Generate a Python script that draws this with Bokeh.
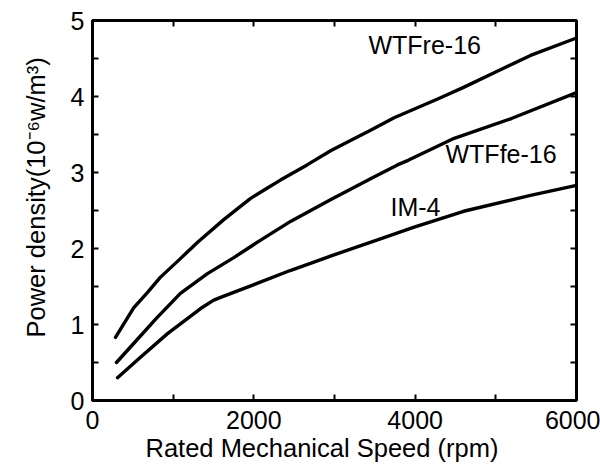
import math
from bokeh.plotting import figure
from bokeh.models import Range1d, FixedTicker, LinearAxis, Label, Title
from bokeh.embed import file_html
from bokeh.resources import INLINE

# ---- data ----
speed_ticks = [0, 2000, 4000, 6000]
speed_minor = [1000, 3000, 5000]
speed_all = [0, 1000, 2000, 3000, 4000, 5000, 6000]
density_ticks = [0, 1, 2, 3, 4, 5]
density_minor = [0.5, 1.5, 2.5, 3.5, 4.5]
density_all = [0, 0.5, 1, 1.5, 2, 2.5, 3, 3.5, 4, 4.5, 5]

wtfre_speed = [285, 510, 680, 840, 1093, 1300, 1627, 1960, 2174, 2330, 2660, 2957, 3453, 3739, 4286, 4600, 5031, 5430, 6000]
wtfre_density = [0.83, 1.22, 1.42, 1.62, 1.87, 2.08, 2.38, 2.66, 2.80, 2.90, 3.10, 3.29, 3.56, 3.72, 3.97, 4.12, 4.34, 4.54, 4.77]

wtffe_speed = [297, 510, 800, 1090, 1425, 1752, 2040, 2460, 2950, 3453, 3780, 3913, 4484, 5193, 6000]
wtffe_density = [0.50, 0.75, 1.09, 1.41, 1.67, 1.88, 2.08, 2.36, 2.64, 2.92, 3.10, 3.16, 3.45, 3.71, 4.05]

im4_speed = [310, 595, 930, 1340, 1503, 1620, 2040, 2450, 2745, 2950, 3578, 3988, 4600, 5430, 6000]
im4_density = [0.30, 0.57, 0.88, 1.21, 1.32, 1.37, 1.54, 1.71, 1.82, 1.90, 2.13, 2.28, 2.49, 2.70, 2.83]

series_names = ["WTFre-16", "WTFfe-16", "IM-4"]
x_title = "Rated Mechanical Speed (rpm)"
y_title = "Power density(10\u207b\u2076w/m\u00b3)"

FONT = "Liberation Sans"

p = figure(width=600, height=464, output_backend="svg", toolbar_location=None,
           x_range=Range1d(0, 6000), y_range=Range1d(0, 5),
           min_border_left=92, min_border_right=24, min_border_top=20, min_border_bottom=64)
p.grid.visible = False
p.background_fill_color = "white"
p.border_fill_color = "white"
p.outline_line_color = "black"
p.outline_line_width = 3


def style_axis(ax):
    ax.axis_line_color = "black"
    ax.axis_line_width = 3
    ax.major_tick_in = 6
    ax.major_tick_out = 0
    ax.minor_tick_in = 6
    ax.minor_tick_out = 0
    ax.major_tick_line_width = 2
    ax.minor_tick_line_width = 2
    ax.major_tick_line_color = "black"
    ax.minor_tick_line_color = "black"
    ax.major_label_text_font = FONT
    ax.major_label_text_font_size = "25px"
    ax.major_label_text_color = "black"


xa = p.xaxis[0]
xa.ticker = FixedTicker(ticks=speed_ticks, minor_ticks=speed_minor)
style_axis(xa)
xa.major_label_standoff = 10
ya = p.yaxis[0]
ya.ticker = FixedTicker(ticks=density_ticks, minor_ticks=density_minor)
style_axis(ya)
ya.major_label_standoff = 8

# top / right axes: ticks only, labels blanked
top_axis = LinearAxis(ticker=FixedTicker(ticks=speed_all))
style_axis(top_axis)
top_axis.major_label_overrides = {t: "" for t in speed_all}
top_axis.major_label_standoff = 0
p.add_layout(top_axis, "above")
right_axis = LinearAxis(ticker=FixedTicker(ticks=density_all))
style_axis(right_axis)
right_axis.major_label_overrides = {t: "" for t in density_all}
right_axis.major_label_standoff = 0
p.add_layout(right_axis, "right")

# ---- curves ----
for xs, ys in [(wtfre_speed, wtfre_density), (wtffe_speed, wtffe_density), (im4_speed, im4_density)]:
    p.line(xs, ys, line_color="black", line_width=3.4, line_join="round", line_cap="round")

# ---- series labels ----
for name, lx, ly in [(series_names[0], 3421, 4.68), (series_names[1], 4376, 3.24), (series_names[2], 3694, 2.54)]:
    p.add_layout(Label(x=lx, y=ly, text=name, text_font=FONT, text_font_size="25px",
                       text_align="left", text_baseline="middle", text_color="black"))

# ---- axis titles ----
p.add_layout(Title(text=x_title, align="left", offset=53, text_font=FONT,
                   text_font_size="25.5px", text_font_style="normal", text_color="black",
                   standoff=0), "below")
p.add_layout(Title(text=y_title, align="left", offset=63, text_font=FONT,
                   text_font_size="25.5px", text_font_style="normal", text_color="black",
                   standoff=36), "left")

open("out.html", "w").write(file_html(p, INLINE))
